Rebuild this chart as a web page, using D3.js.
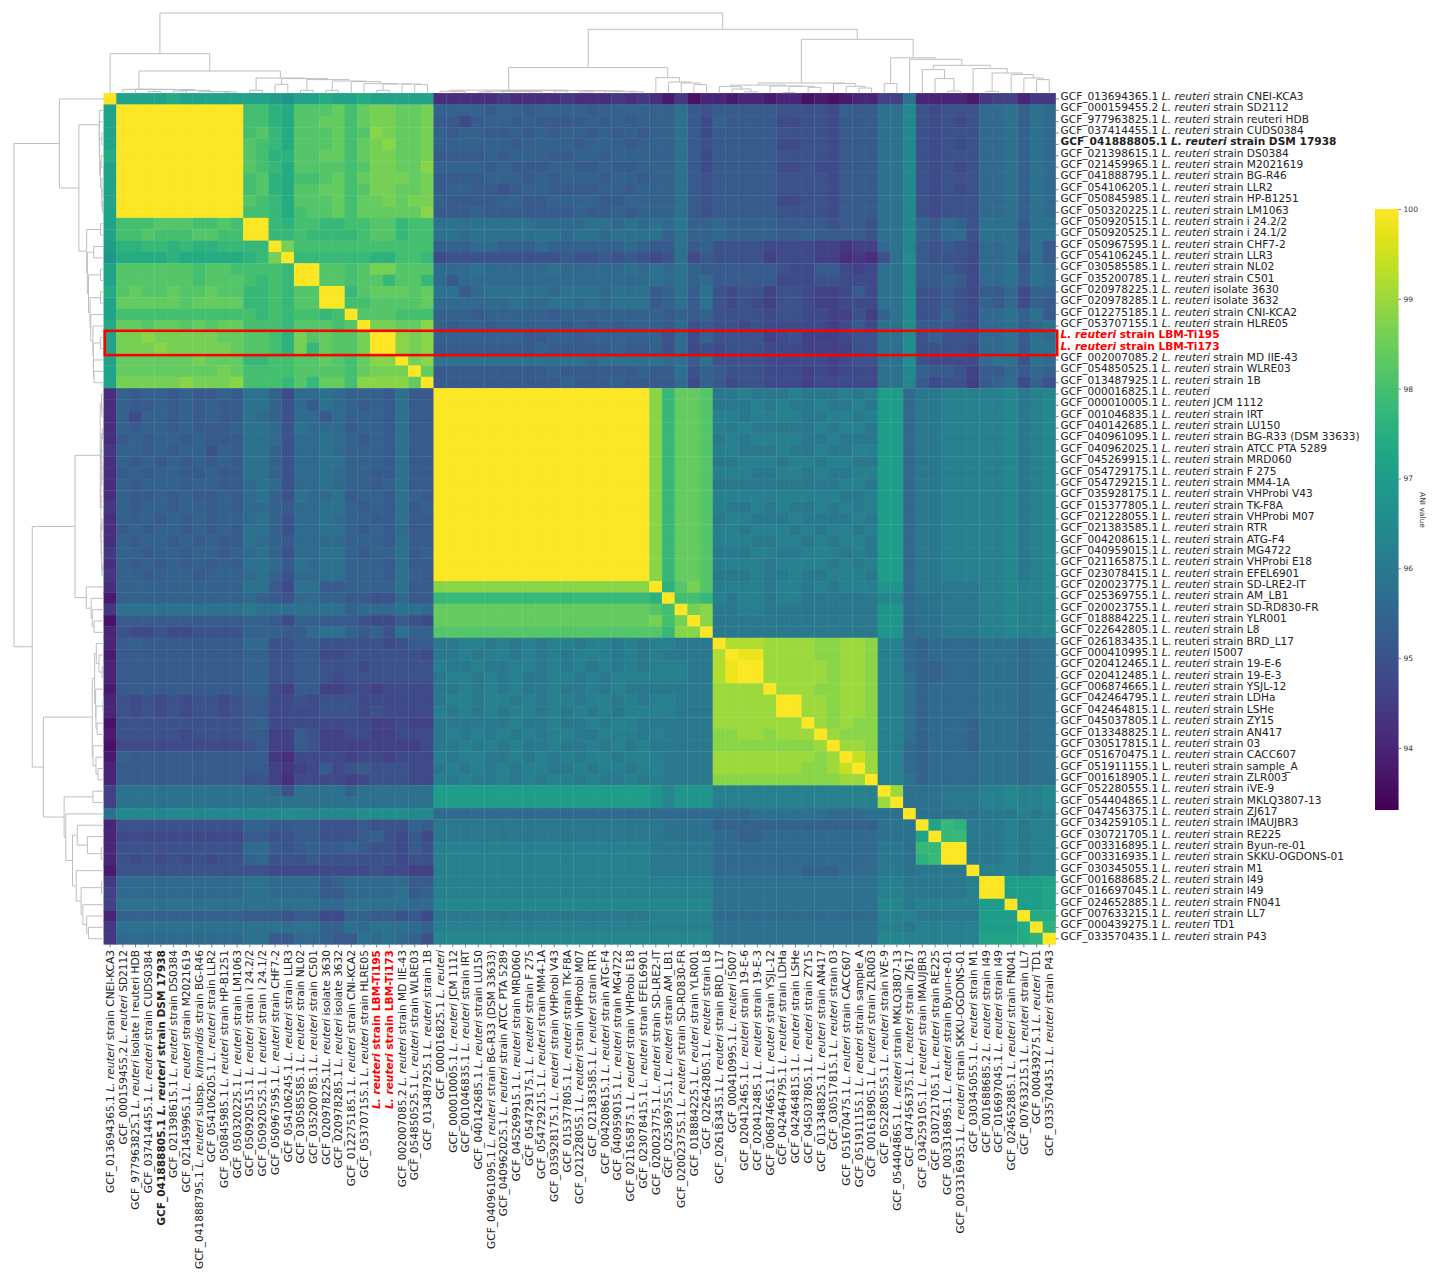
<!DOCTYPE html>
<html><head><meta charset="utf-8">
<script src="https://cdn.jsdelivr.net/npm/d3@7/dist/d3.min.js"></script>
<style>html,body{margin:0;padding:0;background:#fff}svg{display:block}text{font-family:"DejaVu Sans",sans-serif}</style>
</head><body><svg id="c" width="1439" height="1281"></svg>
<script>
// Row labels: *...* marks italic text.
const rowLabels = [
"GCF_013694365.1 *L. reuteri* strain CNEI-KCA3","GCF_000159455.2 *L. reuteri* strain SD2112","GCF_977963825.1 *L. reuteri* strain reuteri HDB","GCF_037414455.1 *L. reuteri* strain CUDS0384","GCF_041888805.1 *L. reuteri* strain DSM 17938",
"GCF_021398615.1 *L. reuteri* strain DS0384","GCF_021459965.1 *L. reuteri* strain M2021619","GCF_041888795.1 *L. reuteri* strain BG-R46","GCF_054106205.1 *L. reuteri* strain LLR2","GCF_050845985.1 *L. reuteri* strain HP-B1251",
"GCF_050320225.1 *L. reuteri* strain LM1063","GCF_050920515.1 *L. reuteri* strain i 24.2/2","GCF_050920525.1 *L. reuteri* strain i 24.1/2","GCF_050967595.1 *L. reuteri* strain CHF7-2","GCF_054106245.1 *L. reuteri* strain LLR3",
"GCF_030585585.1 *L. reuteri* strain NL02","GCF_035200785.1 *L. reuteri* strain C501","GCF_020978225.1 *L. reuteri* isolate 3630","GCF_020978285.1 *L. reuteri* isolate 3632","GCF_012275185.1 *L. reuteri* strain CNI-KCA2",
"GCF_053707155.1 *L. reuteri* strain HLRE05","*L. reuteri* strain LBM-Ti195","*L. reuteri* strain LBM-Ti173","GCF_002007085.2 *L. reuteri* strain MD IIE-43","GCF_054850525.1 *L. reuteri* strain WLRE03",
"GCF_013487925.1 *L. reuteri* strain 1B","GCF_000016825.1 *L. reuteri*","GCF_000010005.1 *L. reuteri* JCM 1112","GCF_001046835.1 *L. reuteri* strain IRT","GCF_040142685.1 *L. reuteri* strain LU150",
"GCF_040961095.1 *L. reuteri* strain BG-R33 (DSM 33633)","GCF_040962025.1 *L. reuteri* strain ATCC PTA 5289","GCF_045269915.1 *L. reuteri* strain MRD060","GCF_054729175.1 *L. reuteri* strain F 275","GCF_054729215.1 *L. reuteri* strain MM4-1A",
"GCF_035928175.1 *L. reuteri* strain VHProbi V43","GCF_015377805.1 *L. reuteri* strain TK-F8A","GCF_021228055.1 *L. reuteri* strain VHProbi M07","GCF_021383585.1 *L. reuteri* strain RTR","GCF_004208615.1 *L. reuteri* strain ATG-F4",
"GCF_040959015.1 *L. reuteri* strain MG4722","GCF_021165875.1 *L. reuteri* strain VHProbi E18","GCF_023078415.1 *L. reuteri* strain EFEL6901","GCF_020023775.1 *L. reuteri* strain SD-LRE2-IT","GCF_025369755.1 *L. reuteri* strain AM_LB1",
"GCF_020023755.1 *L. reuteri* strain SD-RD830-FR","GCF_018884225.1 *L. reuteri* strain YLR001","GCF_022642805.1 *L. reuteri* strain L8","GCF_026183435.1 L. reuteri strain BRD_L17","GCF_000410995.1 *L. reuteri* I5007",
"GCF_020412465.1 *L. reuteri* strain 19-E-6","GCF_020412485.1 *L. reuteri* strain 19-E-3","GCF_006874665.1 *L. reuteri* strain YSJL-12","GCF_042464795.1 *L. reuteri* strain LDHa","GCF_042464815.1 *L. reuteri* strain LSHe",
"GCF_045037805.1 *L. reuteri* strain ZY15","GCF_013348825.1 *L. reuteri* strain AN417","GCF_030517815.1 *L. reuteri* strain 03","GCF_051670475.1 *L. reuteri* strain CACC607","GCF_051911155.1 L. reuteri strain sample_A",
"GCF_001618905.1 *L. reuteri* strain ZLR003","GCF_052280555.1 *L. reuteri* strain iVE-9","GCF_054404865.1 *L. reuteri* strain MKLQ3807-13","GCF_047456375.1 *L. reuteri* strain ZJ617","GCF_034259105.1 *L. reuteri* strain IMAUJBR3",
"GCF_030721705.1 *L. reuteri* strain RE225","GCF_003316895.1 *L. reuteri* strain Byun-re-01","GCF_003316935.1 *L. reuteri* strain SKKU-OGDONS-01","GCF_030345055.1 *L. reuteri* strain M1","GCF_001688685.2 *L. reuteri* strain I49",
"GCF_016697045.1 *L. reuteri* strain I49","GCF_024652885.1 *L. reuteri* strain FN041","GCF_007633215.1 *L. reuteri* strain LL7","GCF_000439275.1 *L. reuteri* TD1","GCF_033570435.1 *L. reuteri* strain P43"];
// Column labels differ from the row labels in these places (0-based index).
const colLabelChanges = [
[1,"GCF_000159455.2 *L. reuteri* SD2112"],[2,"GCF_977963825.1 *L. reuteri* isolate I reuteri HDB"],
[7,"GCF_041888795.1 *L. reuteri* subsp. *kinnaridis* strain BG-R46"],[17,"GCF_020978225.1*L. reuteri* isolate 3630"],
[48,"GCF_026183435.1 *L. reuteri* strain BRD_L17"],[59,"GCF_051911155.1 *L. reuteri* strain sample_A"]];
const boldIndex = [4,21,22];
const redIndex = [21,22];

// ANI matrix, lower triangle (matrix is symmetric). One base-36 digit per cell:
// value = 93.4 + 0.2 * digit, so "8" = 95.0 and "x" = 100. Spaces only group the clusters.
const aniRows = [
"x","j x","j xx","j xxx","j xxxx","k xxxxx","j xxxxxx","j xxxxxxx","j xxxxxxxx","j xxxxxxxxx","j xxxxxxxxxx",
"j nnnooonnon x",
"j nnonnnoonn xx",
"i llmmlmllmm mm x",
"h kkkklkkkkk lm q x",
"j oooooonoon nn n m x",
"j oooooonooo nm n m x x",
"k opoopoopoo mm n m oo x",
"j pppppopppp mm n m oo xx",
"j nnnnnnnnnn nm n m nn mn x",
"k ppoppopopp nn n m oo on o x",
"j qqrqqqqqpp oo n l qo po o q x",
"j qqqrqqqqqp oo n l qm po o q x x",
"j ppppppqppp mm n n oo po n p r r x",
"j ppppppppqp nn n n oo oo n p q q q x",
"j qqqqqrqqqr nn n m om pp n r r r r p x",
"4 a9aa9a99a9 cc a7 bb cb aa a9 c 9 9 x",
"4 a99a9a9a99 cc a8 b9 cb a9 a9 c 9 9 xx",
"4 a7aa9a9a99 cb a8 bb 9b aa a9 c 9 9 xxx",
"4 a9aa9a999a cc b8 cb bb 9a a9 c 9 9 xxxx",
"4 9a9aa9a999 cc b8 bb cb a9 a9 c 9 9 xxxxx",
"5 aa9a9aa8a9 cc a8 bb cb aa a9 c 9 9 xxxxx x",
"4 a9a9a9a9a9 cc a8 bb cc aa a9 c 9 9 xxxxx xx",
"4 9a9aa99a99 cc a8 bb cb aa 99 c 9 9 xxxxx xxx",
"4 a9aaa9aa99 bc b8 bb cb aa 9a c 9 9 xxxxx xxxx",
"4 a99a9a99a9 bc a8 cb bc 9a a9 c a 9 xxxxx xxxxx",
"5 a9aa9aa9a9 bb a9 bb cc a9 a9 c 9 a xxxxx xxxxx x",
"4 a9a9a9a9aa bc a8 bb cb aa 99 c 9 9 xxxxx xxxxx xx",
"4 9a9aa9a9a9 cc a8 bb cc a9 a9 b 9 9 xxxxx xxxxx xxx",
"4 a9aa9a9a99 cb a9 bb bb aa a9 c 9 9 xxxxx xxxxx xxxx",
"5 aa9aa9aa9a bc a8 bb cc a9 aa c 9 a xxxxx xxxxx xxxxx",
"4 a9a9a9a9a9 cc b9 cb cc aa a9 c 9 9 xxxxx xxxxx xxxxx x",
"5 aa9aaa9aaa bc a8 bb cc aa a9 c a 9 xxxxx xxxxx xxxxx xx",
"4 aaaaaaaaaa cc 97 cc 99 aa aa c 9 9 rrrrr rrrrr rrrrr rr x",
"2 aaaaaaaaaa ba 98 bb aa 99 88 b 9 9 mmmmm mmmmm mmmmm mm l x",
"5 cccccccccc dc cc cc cc ab bb c c b ppppp ppppp ppppp pp o n x",
"1 9999999999 aa 97 aa 99 98 77 9 8 7 ppppp ppppp ppppp pp q n q x",
"3 8778778888 aa a9 9b cc a9 a8 c a a ooooo ooooo ooooo oo o m r r x",
"3 9a99999999 bb 88 99 88 88 87 8 9 9 ddeed edede edeed ed e e d d d x",
"2 9999999999 aa 88 99 77 88 88 8 8 7 ddede edede deeed ed e d d d d t x",
"3 9999999999 aa 88 99 88 87 88 8 8 8 edded deede deded ed e e e d d t w x",
"3 9999999999 aa 88 99 87 88 88 8 8 8 deede dedde edede ee e e e d d t w x x",
"2 9999999999 aa 76 99 66 77 67 7 7 7 ddede dedde ddede dd d d d d d s s s s x",
"3 8787878878 99 77 87 88 87 77 7 7 7 deede edede edeed ed e e d d d s s s s s x",
"3 8787878878 99 77 77 88 87 87 7 7 7 edede deede deded ee e e d d d s s s s s x x",
"1 8888888888 9a 77 77 77 77 66 7 6 6 ddddd dedde ddede ed d d d d d s s s s s s s x",
"2 8888878888 99 66 98 66 77 66 7 7 7 deded edede eddee ed e d d d d r r s s r s s s x",
"1 7777777777 89 66 98 66 66 66 6 6 7 ddede dedde ddede de d d d d d r r r r r r r r s x",
"2 a999999999 99 54 77 77 67 76 7 7 7 edeed deded edeed ee e d d d d s s s s s s s s r s x",
"3 9999999999 99 65 67 97 89 88 8 7 7 deded edeed dedee de e d d d d s s s s s s s r r s u x",
"3 9999999999 88 64 77 77 67 88 8 7 7 ededd edede ededd ed e d d d d r r r r r r r r r r s s x",
"6 cccccccccc cc b8 cc cc ac cc c c c iiiii iiiii iiiii ii h f h h h eeeee eeeee eee x",
"6 cccccccccc cc cc cc cc cc cc c c c iiiii iiiii iiiii ii h f h h h eeeee eeeee eee s x",
"c ffffffffff ff fg ff ff fg gg g f f bbbbb bbbbb bbbbb bb b b b b b bbbcc ccccb bbc c c x",
"3 8888888888 aa 99 99 88 89 88 8 a 9 ddddd ddddd ddddd dd d c c c c aaaaa aaaaa aaa c c c x",
"3 7777777777 99 88 99 88 89 a8 7 9 7 ddddd ddddd ddddd dd d c c c c bbaab bbbbb bbb c c c j x",
"3 8888888888 bb 98 9a 99 a9 88 7 9 8 eeeee eeeee eeeee ee d d d d d bbbbb bbbbb bbb d d c m m x",
"3 8787878788 ab 88 89 88 88 88 7 8 8 eeeee eeeee eeeee ee d d d d d bbbbb bbbbb bbb d d c l m x x",
"2 8888888888 88 77 77 77 77 87 7 6 6 eeeee eeeee eeeee ee d d d d d bbbbb bbaaa bbb d d c d d d d x",
"5 bbbbbbbbbb cc bb bb 9a bb bb b 9 9 eeeee eeeee eeeee ee e e e e e ccccc ccccc ccc e e d d d d d e x",
"6 bbbbbbbbbb cc bb bb 99 bb bb c 9 a eeeee eeeee eeeee ee e e e e e ccccc ccccc ccc e e d d d d d e x x",
"6 cccccccccc cc cc cc bb cc cc c b b fffff fffff fffff ff f f f f f ccccc ccccc ccc f f d e e e e e i i x",
"3 aaaaaaaaaa 99 98 99 77 aa 99 8 9 7 ddddd ddddd ddddd dd e e e e e bbbbb bbbbb bbb e e e d d d d d i i i x",
"5 cccccccccc cc cc cc aa cb cc c b a eeeee eeeee eeeee ee e e e e e ccccc ccccc ccc e e d e e e e e i i i k x",
"5 bbbbbbbbbb cc 99 bb a9 9c bc b a 8 fffff fffff fffff ff f f f f f ccccc ccccc ccc f f e e e e e e j j j k l x"
];

// Shared clustering tree: [merge height, left, right]; numbers are 1-based leaf positions.
const dendroTree = [80.3,
 [39.7, 1, [22.3,
   [4, 2, [4, 3, [3.7, [1.7,4,5], [3, [2.3,6,7], [1.7,8,[1.7,9,[1.3,10,11]]]]]]],
   [15.3, [3,12,13], [14.7, [9,14,15], [13.7, [3,16,17], [12.3, [3,18,19], [11.7, 20, [9.7, 21, [9.3, [3,22,23], [9.3, 24, [8.7,25,26]]]]]]]]]
 ]],
 [64,
   [25.7,
     [3.2, [2,27,[1.7,28,29]], [2.7, [2.7,[2,[1.3,30,31],[2,32,[1.7,33,[1.7,34,35]]]],[2.3,36,37]], [2.3,[1.5,38,39],[2,[2.3,40,41],[1.5,42,43]]]]],
     [15.7, 44, [11.3, 45, [10.3, 46, [8.7,47,48]]]]],
   [54,
     [10.3, [8.2,[6.7,49,[4.3,50,[1.5,51,52]]],[7.3,53,[7,[0.7,54,55],[6,56,57]]]], [9.7,58,[7,59,[5.3,60,61]]]],
     [35.5, [9.7,62,63], [34, 64, [28, [23.7,65,[14.7,66,[2.3,67,68]]], [24.7,69,[20.3,[2,70,71],[18.7,72,[15.3,73,[13.7,74,75]]]]]]]]
   ]
 ]
];
const colorTicks = [94,95,96,97,98,99,100];
const colorDomain = [93.31,100];
const axisTitle = "ANI value";

// ---- layout
const L=103.8,R=1055.6,T=93.3,B=944.4;
const n=rowLabels.length, idx=d3.range(1,n+1);
const x=d3.scaleBand().domain(idx).range([L,R]);
const y=d3.scaleBand().domain(idx).range([T,B]);
const color=d3.scaleSequential(d3.interpolateViridis).domain(colorDomain);
const svg=d3.select("#c");

// ---- matrix
const cells=[];
aniRows.forEach((s,i)=>{
  const codes=s.replace(/\s/g,"");
  if(codes.length!==i+1) console.error("row length",i+1,codes.length);
  [...codes].forEach((ch,j)=>{
    const v=93.4+0.2*parseInt(ch,36);
    cells.push({r:i+1,c:j+1,v});
    if(i!==j) cells.push({r:j+1,c:i+1,v});
  });
});
// Fill first (slightly overlapping, so no seams), then a very faint lighter edge per cell.
const heat=svg.append("g").style("filter","blur(0.45px)");
heat.selectAll("rect.f").data(cells).join("rect").attr("class","f")
  .attr("x",d=>x(d.c)-0.25).attr("y",d=>y(d.r)-0.25)
  .attr("width",x.bandwidth()+0.5).attr("height",y.bandwidth()+0.5)
  .attr("fill",d=>color(d.v));
heat.selectAll("rect.e").data(cells).join("rect").attr("class","e")
  .attr("x",d=>x(d.c)).attr("y",d=>y(d.r))
  .attr("width",x.bandwidth()).attr("height",y.bandwidth())
  .attr("fill","none").attr("stroke","#fff").attr("stroke-opacity",0.035).attr("stroke-width",0.7);

// ---- dendrograms
const topH=d3.scaleLinear().domain([0,80.3]).range([T,13]);
const leftH=d3.scaleLinear().domain([0,80.3]).range([L,14]);
const line=d3.line();
function links(node,out){
  if(typeof node==="number") return {pos:node,h:0};
  const a=links(node[1],out), b=links(node[2],out);
  out.push({a,b,h:node[0]});
  return {pos:(a.pos+b.pos)/2,h:node[0]};
}
const merges=[]; links(dendroTree,merges);
const cx=p=>x(1)+ (p-0.5)*x.bandwidth();
const cy=p=>y(1)+ (p-0.5)*y.bandwidth();
const dg=svg.append("g").attr("fill","none").attr("stroke","#bfbfbf").attr("stroke-width",1);
dg.selectAll("path.t").data(merges).join("path").attr("class","t")
  .attr("d",m=>line([[cx(m.a.pos),topH(m.a.h)],[cx(m.a.pos),topH(m.h)],[cx(m.b.pos),topH(m.h)],[cx(m.b.pos),topH(m.b.h)]]));
dg.selectAll("path.l").data(merges).join("path").attr("class","l")
  .attr("d",m=>line([[leftH(m.a.h),cy(m.a.pos)],[leftH(m.h),cy(m.a.pos)],[leftH(m.h),cy(m.b.pos)],[leftH(m.b.h),cy(m.b.pos)]]));

// ---- labels
function fillLabel(sel,label,i){
  sel.text(null);
  label.split("*").forEach((part,k)=>{
    if(part==="") return;
    sel.append("tspan").attr("font-style",k%2?"italic":"normal").text(part);
  });
  if(boldIndex.includes(i)) sel.attr("font-weight","bold");
  if(redIndex.includes(i)) sel.attr("fill","#f00");
}
const colLabels=rowLabels.slice();
colLabelChanges.forEach(([i,t])=>colLabels[i]=t);
const fs=10.6;
const ya=svg.append("g").attr("transform",`translate(${R},0)`)
  .call(d3.axisRight(y).tickSize(3).tickPadding(2));
ya.select(".domain").remove();
ya.selectAll(".tick line").attr("stroke","#333").attr("stroke-width",0.6);
ya.selectAll(".tick text").attr("font-size",fs).attr("fill","#222").attr("dy","0.1em")
  .attr("font-family",'"DejaVu Sans",sans-serif')
  .each(function(d,i){fillLabel(d3.select(this),rowLabels[i],i);});
const xa=svg.append("g").attr("transform",`translate(0,${B})`)
  .call(d3.axisBottom(x).tickSize(3).tickPadding(2));
xa.select(".domain").remove();
xa.selectAll(".tick line").attr("stroke","#333").attr("stroke-width",0.6);
xa.selectAll(".tick text").attr("font-size",fs).attr("fill","#222")
  .attr("font-family",'"DejaVu Sans",sans-serif')
  .attr("transform","rotate(-90)").attr("text-anchor","end")
  .attr("x",-5.6).attr("y",0).attr("dy","0.35em")
  .each(function(d,i){fillLabel(d3.select(this),colLabels[i],i);});

// ---- highlight around the two LBM rows
svg.append("rect").attr("x",L+1).attr("y",y(redIndex[0]+1)-0.8)
  .attr("width",R-L+0.6).attr("height",2*y.bandwidth()+1.6)
  .attr("fill","none").attr("stroke","#f00").attr("stroke-width",2.6);

// ---- colour bar
const cb=d3.scaleLinear().domain(colorDomain).range([810,209]);
const defs=svg.append("defs");
const grad=defs.append("linearGradient").attr("id","vir").attr("x1",0).attr("x2",0).attr("y1",1).attr("y2",0);
d3.range(0,1.001,0.05).forEach(t=>grad.append("stop").attr("offset",t).attr("stop-color",d3.interpolateViridis(t)));
svg.append("rect").attr("x",1375).attr("y",209).attr("width",23.6).attr("height",601).attr("fill","url(#vir)");
const ca=svg.append("g").attr("transform","translate(1398.6,0)")
  .call(d3.axisRight(cb).tickValues(colorTicks).tickFormat(d3.format("d")).tickSize(2.5).tickPadding(2.5));
ca.select(".domain").remove();
ca.selectAll(".tick line").attr("stroke","#333").attr("stroke-width",0.6);
ca.selectAll(".tick text").attr("font-size",7.5).attr("fill","#333").attr("font-family",'"DejaVu Sans",sans-serif');
svg.append("text").attr("transform","translate(1420,510) rotate(90)").attr("text-anchor","middle")
  .attr("font-size",7.5).attr("fill","#333").text(axisTitle);
</script></body></html>
